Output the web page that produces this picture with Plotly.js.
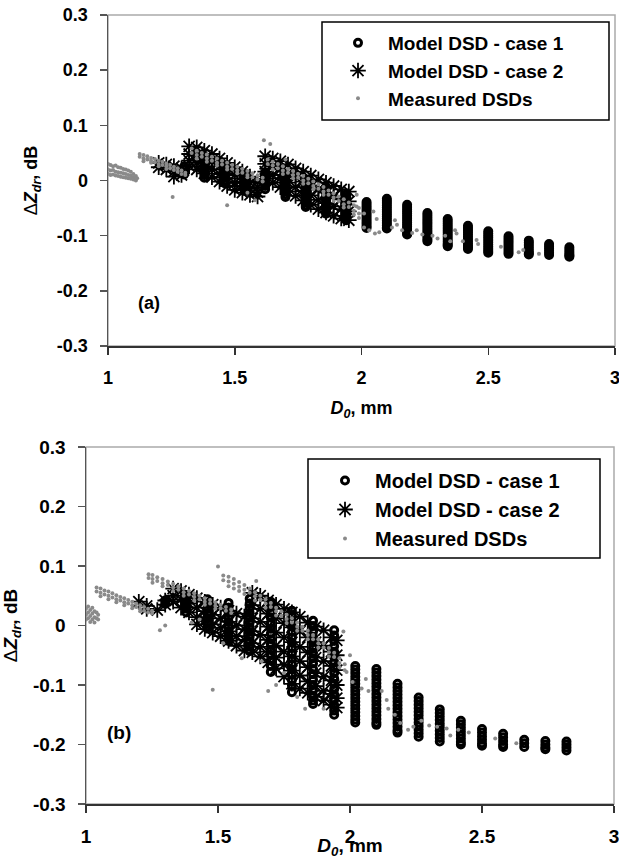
<!DOCTYPE html>
<html><head><meta charset="utf-8">
<script src="https://cdn.plot.ly/plotly-3.0.1.min.js"></script>
<style>html,body{margin:0;padding:0;background:#fff;}</style>
</head><body><div id="chart" style="width:619px;height:859px;"></div>
<script>
// ---------- axis ticks ----------
const xTickVals = [1, 1.5, 2, 2.5, 3];
const xTickText = ['1', '1.5', '2', '2.5', '3'];
const yTickVals = [-0.3, -0.2, -0.1, 0, 0.1, 0.2, 0.3];
const yTickText = ['-0.3', '-0.2', '-0.1', '0', '0.1', '0.2', '0.3'];
const seriesNames = ['Model DSD - case 1', 'Model DSD - case 2', 'Measured DSDs'];

// ---------- panel (a) ----------
const topC1X = [1.30,1.38,1.46,1.54,1.62,1.70,1.78,1.86,1.94,2.02,2.10,2.18,2.26,2.34,2.42,2.50,2.58,2.66,2.74,2.82];
const topC1Y = [
  [0.025,0.020,0.015,0.011],
  [0.035,0.030,0.025,0.020,0.015,0.010,0.005],
  [0.025,0.020,0.015,0.010,0.005,0.000,-0.005],
  [0.012,0.007,0.002,-0.003,-0.008,-0.013,-0.018],
  [0.015,0.010,0.005,0.000,-0.005,-0.010,-0.016],
  [0.010,0.005,0.000,-0.005,-0.010,-0.015,-0.020,-0.025,-0.030],
  [0.000,-0.005,-0.010,-0.015,-0.020,-0.025,-0.030,-0.035,-0.040,-0.045,-0.048],
  [-0.012,-0.017,-0.022,-0.027,-0.032,-0.037,-0.042,-0.047,-0.052,-0.057,-0.060],
  [-0.025,-0.030,-0.035,-0.040,-0.045,-0.050,-0.055,-0.060,-0.065,-0.070,-0.072],
  [-0.039,-0.043,-0.047,-0.051,-0.055,-0.059,-0.063,-0.067,-0.071,-0.075,-0.079,-0.083,-0.086],
  [-0.033,-0.037,-0.041,-0.045,-0.049,-0.053,-0.057,-0.061,-0.065,-0.069,-0.073,-0.077,-0.081,-0.085,-0.087],
  [-0.044,-0.048,-0.052,-0.056,-0.060,-0.064,-0.068,-0.072,-0.076,-0.080,-0.084,-0.088,-0.092,-0.096,-0.098],
  [-0.059,-0.063,-0.067,-0.071,-0.075,-0.079,-0.083,-0.087,-0.091,-0.095,-0.099,-0.103,-0.107,-0.110],
  [-0.070,-0.074,-0.078,-0.082,-0.086,-0.090,-0.094,-0.098,-0.102,-0.106,-0.110,-0.114,-0.117,-0.119],
  [-0.082,-0.086,-0.090,-0.094,-0.098,-0.102,-0.106,-0.110,-0.114,-0.118,-0.121,-0.124],
  [-0.092,-0.096,-0.100,-0.104,-0.108,-0.112,-0.116,-0.120,-0.124,-0.128,-0.131],
  [-0.101,-0.105,-0.109,-0.113,-0.117,-0.121,-0.125,-0.129,-0.133],
  [-0.109,-0.113,-0.117,-0.121,-0.125,-0.129,-0.132,-0.134],
  [-0.115,-0.119,-0.123,-0.127,-0.131,-0.135],
  [-0.121,-0.125,-0.129,-0.133,-0.136,-0.138]
];
const topC2X = [1.20,1.23,1.26,1.29,1.32,1.35,1.38,1.41,1.44,1.47,1.50,1.53,1.56,1.59,1.62,1.65,1.68,1.71,1.74,1.77,1.80,1.83,1.86,1.89,1.92,1.95];
const topC2Y = [
  [0.032,0.024],[0.029,0.020],[0.026,0.016,0.007],[0.022,0.010],
  [0.062,0.048,0.036,0.026],[0.060,0.046,0.032,0.020],[0.054,0.040,0.026,0.013],[0.048,0.034,0.020,0.006],
  [0.040,0.026,0.012,-0.002],[0.032,0.018,0.004,-0.010],[0.024,0.010,-0.004,-0.017],[0.016,0.003,-0.010,-0.022],
  [0.007,-0.004,-0.015,-0.026],[-0.002,-0.012,-0.021,-0.029],
  [0.044,0.030,0.016,0.003],[0.040,0.026,0.010,-0.004],[0.035,0.020,0.004,-0.012],[0.029,0.013,-0.004,-0.020],
  [0.022,0.006,-0.012,-0.028],[0.016,-0.002,-0.019,-0.036],[0.009,-0.009,-0.027,-0.044],[0.002,-0.016,-0.035,-0.052],
  [-0.004,-0.022,-0.041,-0.058],[-0.010,-0.028,-0.047,-0.064],[-0.016,-0.034,-0.052,-0.069],[-0.020,-0.038,-0.056,-0.072]
];
const measTopX = [1.000,1.010,1.020,1.030,1.040,1.050,1.060,1.070,1.080,1.090,1.100,1.110,1.115,
  1.125,1.140,1.155,1.170,1.185,1.200,1.215,1.230,1.245,1.260,1.275,1.290,1.305,
  1.33,1.35,1.37,1.39,1.41,1.43,1.45,1.47,1.49,1.51,1.53,1.55,1.57,1.59,1.61,
  1.63,1.65,1.67,1.69,1.71,1.73,1.75,1.77,1.79,1.81,1.83,1.85,1.87,1.89,1.91,1.93,1.95,1.97,1.99,
  1.255,1.47,1.58,1.615,1.64,1.70,1.55,
  1.981,2.010,2.030,2.047,2.053,2.070,2.060,2.120,2.132,2.140,2.160,2.200,2.218,2.240,2.280,2.300,
  2.330,2.350,2.369,2.375,2.400,2.454,2.460,2.550,2.620,2.638,2.700];
const measTopY = [
  [0.030,0.020,0.012],[0.028,0.018,0.010],[0.026,0.019,0.011],[0.027,0.016,0.009],[0.024,0.015,0.008],
  [0.023,0.014,0.007],[0.021,0.013,0.006],[0.020,0.012,0.005],[0.018,0.010,0.004],[0.016,0.009,0.003],
  [0.012,0.006,0.002],[0.008,0.003,0.000],[0.004],
  [0.048,0.043],[0.046,0.040,0.035],[0.044,0.038],[0.041,0.036,0.032],[0.039,0.033],[0.036,0.030,0.026],
  [0.034,0.028],[0.031,0.026,0.021],[0.028,0.022],[0.025,0.019],[0.022,0.016],[0.018,0.012],[0.014,0.010],
  [0.058,0.050],[0.054,0.046,0.040],[0.050,0.043],[0.047,0.040,0.034],[0.043,0.036],[0.040,0.032,0.027],
  [0.036,0.029],[0.032,0.025,0.020],[0.028,0.021],[0.025,0.018,0.013],[0.021,0.014],[0.017,0.010,0.006],
  [0.013,0.006],[0.009,0.002],[0.005,-0.002],
  [0.038,0.030],[0.034,0.027,0.020],[0.030,0.022],[0.026,0.018,0.012],[0.021,0.014],[0.017,0.010,0.004],
  [0.012,0.005],[0.008,0.000,-0.006],[0.003,-0.005],[-0.002,-0.010,-0.016],[-0.007,-0.015],
  [-0.012,-0.020,-0.026],[-0.018,-0.026],[-0.023,-0.031,-0.037],[-0.029,-0.037],[-0.034,-0.043,-0.049],
  [-0.040,-0.048],[-0.045,-0.055,-0.062],[-0.050,-0.060,-0.068],
  [-0.030],[-0.045],[-0.036],[0.073],[0.066],[0.038],[-0.022],
  [-0.026,-0.047],[-0.085,-0.060],[-0.090],[-0.056],[-0.096],[-0.094],[-0.070],[-0.085],[-0.072],[-0.080],
  [-0.090],[-0.095],[-0.090],[-0.098],[-0.100],[-0.105],[-0.100],[-0.110],[-0.090],[-0.096],[-0.110],
  [-0.108],[-0.115],[-0.120],[-0.130],[-0.126],[-0.133]
];

// ---------- panel (b) ----------
const botC1X = [1.30,1.38,1.46,1.54,1.62,1.70,1.78,1.86,1.94,2.02,2.10,2.18,2.26,2.34,2.42,2.50,2.58,2.66,2.74,2.82];
const botC1Y = [
  [0.042,0.036],
  [0.050,0.043,0.036,0.029,0.022],
  [0.044,0.036,0.028,0.020,0.012,0.004,-0.004],
  [0.038,0.030,0.022,0.014,0.006,-0.002,-0.010,-0.018,-0.026],
  [0.045,0.037,0.029,0.021,0.013,0.005,-0.003,-0.011,-0.019,-0.027,-0.035,-0.043],
  [0.040,0.031,0.022,0.013,0.004,-0.005,-0.014,-0.023,-0.032,-0.041,-0.050,-0.059,-0.068,-0.078],
  [0.025,0.016,0.007,-0.002,-0.011,-0.020,-0.029,-0.038,-0.047,-0.056,-0.065,-0.074,-0.083,-0.092,-0.101,-0.112],
  [0.008,-0.001,-0.010,-0.019,-0.028,-0.037,-0.046,-0.055,-0.064,-0.073,-0.082,-0.091,-0.100,-0.109,-0.118,-0.126,-0.132],
  [-0.008,-0.017,-0.026,-0.035,-0.044,-0.053,-0.062,-0.071,-0.080,-0.089,-0.098,-0.107,-0.116,-0.125,-0.134,-0.143,-0.150],
  [-0.068,-0.074,-0.080,-0.086,-0.092,-0.098,-0.104,-0.110,-0.116,-0.122,-0.128,-0.134,-0.140,-0.146,-0.152,-0.158,-0.163],
  [-0.073,-0.079,-0.085,-0.091,-0.097,-0.103,-0.109,-0.115,-0.121,-0.127,-0.133,-0.139,-0.145,-0.151,-0.157,-0.163,-0.167],
  [-0.098,-0.104,-0.110,-0.116,-0.122,-0.128,-0.134,-0.140,-0.146,-0.152,-0.158,-0.164,-0.170,-0.176,-0.180],
  [-0.121,-0.127,-0.133,-0.139,-0.145,-0.151,-0.157,-0.163,-0.169,-0.175,-0.181,-0.187],
  [-0.141,-0.147,-0.153,-0.159,-0.165,-0.171,-0.177,-0.183,-0.189,-0.195],
  [-0.160,-0.166,-0.172,-0.178,-0.184,-0.190,-0.196,-0.200],
  [-0.174,-0.180,-0.186,-0.192,-0.198,-0.202],
  [-0.182,-0.188,-0.194,-0.200,-0.204],
  [-0.192,-0.198,-0.204],
  [-0.194,-0.200,-0.205,-0.208],
  [-0.195,-0.200,-0.205,-0.210]
];
const botC2X = [1.20,1.23,1.27,1.30,1.33,1.36,1.39,1.42,1.45,1.48,1.51,1.54,1.57,1.60,1.63,1.66,1.69,1.72,1.75,1.78,1.81,1.84,1.87,1.90,1.93,1.95];
const botC2Y = [
  [0.040],[0.033,0.028],[0.026],[0.042,0.035],[0.062,0.050,0.040],[0.058,0.044,0.030],[0.052,0.037,0.022],
  [0.046,0.030,0.014,0.002],[0.040,0.024,0.008,-0.006],[0.035,0.018,0.002,-0.012],[0.030,0.012,-0.004,-0.018],
  [0.025,0.006,-0.010,-0.026],[0.020,0.000,-0.018,-0.034],[0.015,-0.006,-0.024,-0.042],
  [0.055,0.034,0.012,-0.010,-0.030,-0.045],[0.050,0.028,0.006,-0.016,-0.036,-0.052],
  [0.042,0.020,-0.002,-0.024,-0.044,-0.062],[0.035,0.012,-0.012,-0.034,-0.054,-0.072],
  [0.028,0.004,-0.020,-0.044,-0.066,-0.086],[0.022,-0.003,-0.028,-0.052,-0.076,-0.098],
  [0.015,-0.010,-0.036,-0.060,-0.084,-0.106],[0.005,-0.020,-0.045,-0.070,-0.094,-0.113],
  [-0.002,-0.028,-0.054,-0.080,-0.102,-0.120],[-0.008,-0.034,-0.060,-0.086,-0.110,-0.126],
  [-0.020,-0.044,-0.068,-0.092,-0.115,-0.133],[-0.025,-0.050,-0.075,-0.100,-0.122,-0.138]
];
const measBotX = [1.000,1.008,1.016,1.024,1.032,1.040,1.046,
  1.04,1.055,1.07,1.085,1.10,1.115,1.13,1.145,1.16,1.175,1.19,1.205,1.22,1.235,1.25,
  1.237,1.252,1.27,1.29,1.31,1.33,1.35,1.37,1.39,1.41,1.43,1.45,1.47,1.49,1.51,1.53,1.55,
  1.52,1.54,1.56,1.58,1.60,1.62,1.64,1.66,1.68,1.70,1.72,1.74,1.76,1.78,1.80,1.82,1.84,1.86,1.88,1.90,1.92,1.94,1.96,1.98,
  1.28,1.30,1.40,1.48,1.50,1.43,1.52,1.59,1.645,1.665,1.69,1.72,1.75,1.80,1.83,1.90,
  1.975,1.987,2.000,2.010,2.044,2.060,2.070,2.120,2.139,2.145,2.170,2.190,2.220,2.240,2.270,2.300,
  2.330,2.366,2.380,2.410,2.450,2.550,2.630];
const measBotY = [
  [0.028,0.018,0.010],[0.032,0.022,0.012],[0.026,0.016,0.006],[0.030,0.020,0.010],[0.024,0.014,0.005],
  [0.022,0.012],[0.018,0.010],
  [0.064,0.057],[0.062,0.055,0.049],[0.059,0.052],[0.057,0.050,0.044],[0.054,0.047],[0.051,0.044,0.039],
  [0.048,0.042],[0.046,0.039,0.034],[0.043,0.037],[0.040,0.034,0.029],[0.037,0.031],[0.034,0.028,0.024],
  [0.031,0.025],[0.028,0.022],[0.025,0.020],
  [0.086,0.080],[0.085,0.078,0.072],[0.081,0.075],[0.078,0.071,0.066],[0.074,0.068],[0.070,0.064,0.058],
  [0.066,0.060],[0.062,0.056,0.050],[0.058,0.052],[0.054,0.048,0.042],[0.050,0.044],[0.046,0.040,0.035],
  [0.043,0.037],[0.039,0.033,0.028],[0.035,0.029],[0.031,0.025],[0.027,0.021],
  [0.084,0.076],[0.082,0.074,0.066],[0.078,0.070,0.062],[0.073,0.065,0.058],[0.068,0.060,0.053],[0.062,0.055],
  [0.056,0.049,0.042],[0.050,0.043],[0.044,0.037,0.030],[0.038,0.031],[0.030,0.024,0.017],[0.024,0.017],
  [0.018,0.011,0.004],[0.012,0.005],[0.005,-0.002,-0.009],[-0.002,-0.009],[-0.009,-0.016,-0.023],
  [-0.016,-0.023],[-0.023,-0.030,-0.037],[-0.030,-0.037],[-0.038,-0.045,-0.052],[-0.046,-0.053],
  [-0.055,-0.063,-0.070],[-0.065,-0.075],
  [-0.008],[0.000],[0.005],[-0.108],[0.099],[0.010],[-0.030],[-0.055],[0.075],[-0.060],[-0.110],[-0.100],
  [-0.080],[-0.120],[-0.140],[-0.140],
  [-0.010],[-0.078],[-0.050],[-0.095],[-0.106],[-0.090],[-0.110],[-0.110],[-0.125],[-0.140],[-0.150],
  [-0.164],[-0.175],[-0.170],[-0.160],[-0.168],[-0.170],[-0.173],[-0.185],[-0.175],[-0.180],[-0.190],[-0.198]
];

// ---------- helpers ----------
function expand(xs, ys) {
  const X = [], Y = [];
  xs.forEach((x, i) => ys[i].forEach(y => { X.push(x); Y.push(y); }));
  return {x: X, y: Y};
}
const FONT = 'Liberation Sans, Arial, sans-serif';
const W = 619, H = 859;
const px = v => v / W, py = v => 1 - v / H;

function makeTraces(c1x, c1y, c2x, c2y, mx, my, xa, ya, leg) {
  const a = expand(c1x, c1y), b = expand(c2x, c2y), m = expand(mx, my);
  return [
    {type: 'scatter', mode: 'markers', name: seriesNames[0], x: a.x, y: a.y, xaxis: xa, yaxis: ya,
     legend: leg, legendgroup: leg + 'a',
     marker: {symbol: 'circle-open', size: 7, color: '#000', line: {color: '#000', width: 3}}},
    {type: 'scatter', mode: 'markers', name: seriesNames[1], x: b.x, y: b.y, xaxis: xa, yaxis: ya,
     legend: leg, legendgroup: leg + 'b',
     marker: {symbol: 'asterisk-open', size: 13, color: '#000', line: {color: '#000', width: 1.8}}},
    {type: 'scatter', mode: 'markers', name: seriesNames[2], x: m.x, y: m.y, xaxis: xa, yaxis: ya,
     legend: leg, legendgroup: leg + 'c',
     marker: {symbol: 'circle', size: 4, color: '#8a8a8a'}}
  ];
}

const data = [
  ...makeTraces(topC1X, topC1Y, topC2X, topC2Y, measTopX, measTopY, 'x', 'y', 'legend'),
  ...makeTraces(botC1X, botC1Y, botC2X, botC2Y, measBotX, measBotY, 'x2', 'y2', 'legend2')
];

function xAxis(domain, anchor, fsize, standoff) {
  return {
    domain: domain, anchor: anchor, range: [1, 3], tickmode: 'array', tickvals: xTickVals, ticktext: xTickText,
    showline: true, linecolor: '#333', linewidth: 1.5, ticks: 'outside', ticklen: 7, tickwidth: 1.5, tickcolor: '#333',
    showgrid: false, zeroline: false, ticklabelstandoff: 8, ticklabeloverflow: 'allow',
    tickfont: {family: FONT, size: fsize, color: '#000', weight: 'bold'},
    title: {text: '<i>D<sub>0</sub></i>, mm', standoff: standoff, font: {family: FONT, size: fsize, color: '#000', weight: 'bold'}}
  };
}
function yAxis(domain, anchor, fsize) {
  return {
    domain: domain, anchor: anchor, range: [-0.3, 0.3], tickmode: 'array', tickvals: yTickVals, ticktext: yTickText,
    showline: true, linecolor: '#555', linewidth: 1.5, ticks: 'outside', ticklen: 7, tickwidth: 1.5, tickcolor: '#555',
    showgrid: false, zeroline: false, ticklabelstandoff: 8, ticklabeloverflow: 'allow',
    tickfont: {family: FONT, size: fsize, color: '#000', weight: 'bold'},
    title: {text: '<span style="font-weight:normal">Δ</span><i>Z<sub>dr</sub></i>, dB', standoff: 14,
            font: {family: FONT, size: fsize, color: '#000', weight: 'bold'}}
  };
}
function legendCfg(x, y, fsize) {
  return {x: px(x), y: py(y), xanchor: 'left', yanchor: 'top', bgcolor: 'rgba(0,0,0,0)', borderwidth: 0,
    itemwidth: 50, tracegroupgap: 4, traceorder: 'normal',
    font: {family: FONT, size: fsize, color: '#000', weight: 'bold'}};
}

const layout = {
  width: W, height: H, margin: {l: 0, r: 0, t: 0, b: 0},
  paper_bgcolor: '#fff', plot_bgcolor: '#fff', showlegend: true,
  xaxis: xAxis([px(108), px(615)], 'y', 18, 14),
  yaxis: yAxis([py(346), py(15)], 'x', 18),
  xaxis2: xAxis([px(86), px(614)], 'y2', 19, 0),
  yaxis2: yAxis([py(804), py(447)], 'x2', 19),
  legend: legendCfg(328, 24, 19),
  legend2: legendCfg(315, 461, 20),
  shapes: [
    {type: 'rect', xref: 'x domain', yref: 'y domain', x0: 0, x1: 1, y0: 0, y1: 1, layer: 'below', line: {color: '#aaa', width: 1.5}},
    {type: 'rect', xref: 'x2 domain', yref: 'y2 domain', x0: 0, x1: 1, y0: 0, y1: 1, layer: 'below', line: {color: '#aaa', width: 1.5}},
    {type: 'rect', xref: 'paper', yref: 'paper', x0: px(322), x1: px(609), y0: py(120), y1: py(22), layer: 'above', fillcolor: '#fff', line: {color: '#000', width: 1.5}},
    {type: 'rect', xref: 'paper', yref: 'paper', x0: px(308), x1: px(600), y0: py(558), y1: py(459), layer: 'above', fillcolor: '#fff', line: {color: '#000', width: 1.5}}
  ],
  annotations: [
    {text: '(a)', xref: 'x domain', yref: 'y domain', x: 0.055, y: 0.095, showarrow: false, font: {family: FONT, size: 18, color: '#000', weight: 'bold'}},
    {text: '(b)', xref: 'x2 domain', yref: 'y2 domain', x: 0.036, y: 0.165, showarrow: false, font: {family: FONT, size: 19, color: '#000', weight: 'bold'}}
  ]
};

Plotly.newPlot('chart', data, layout, {staticPlot: true, displayModeBar: false});
</script></body></html>
